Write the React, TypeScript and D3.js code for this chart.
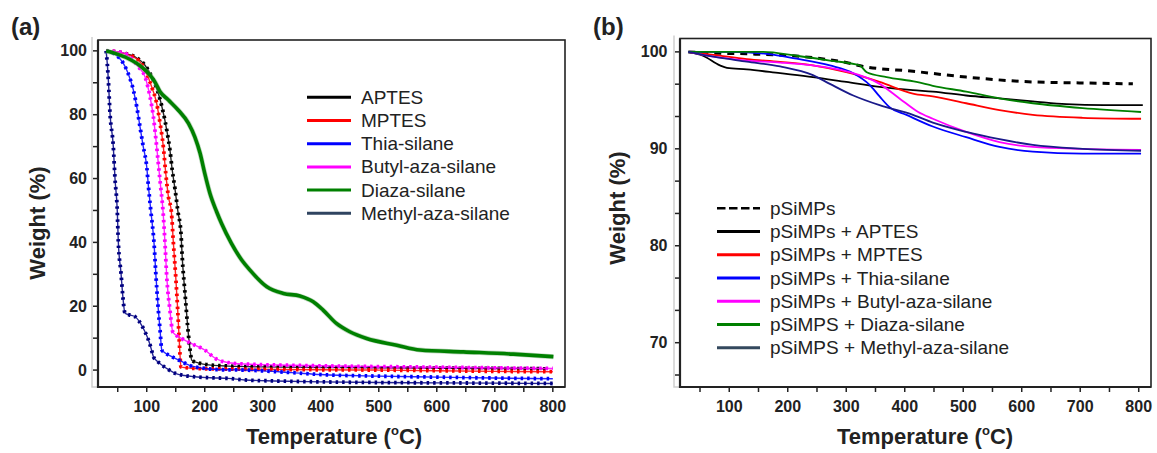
import React from 'react';
import * as d3 from 'd3';

type Pt = [number, number];

// ---------- Panel (a) data: [temperature °C, weight %] ----------
const aptesA: Pt[] = [[30,100],[60,99.3],[80,98.1],[97,95.5],[108.6,91.9],[120,86.7],[127.6,81.4],[134.5,75.2],[140,68.9],[144,62.6],[149,56.4],[153.5,50],[159,42.8],[161.5,34.4],[166,24],[170.6,13.6],[174.7,6.3],[177.6,3.1],[190,2.2],[200,1.8],[241,1.25],[300,1.0],[400,0.8],[500,0.7],[600,0.6],[700,0.5],[790,0.4]];
const mptesA: Pt[] = [[30,100],[60,99.2],[85.5,97.1],[97,94],[108.6,88.7],[117.2,83.5],[123,77.3],[128.6,70],[132.8,61.6],[137.4,54.3],[142.5,49.5],[146,39.7],[150,29.2],[153.4,18.8],[156.3,8.4],[159,1.0],[170,0.7],[183,0.5],[250,0.3],[400,0.1],[500,0],[600,-0.2],[700,-0.4],[800,-0.5]];
const thiaA: Pt[] = [[30,100],[40,99.5],[51,98.1],[60,96],[68,92.9],[77,87.7],[82.8,82.5],[88.4,76.2],[94,70],[100,63.7],[103,57.4],[107,50],[112.6,39.7],[116,29.2],[120,18.8],[123,12.5],[125.9,6.3],[130,5.6],[143,4.2],[160,2.7],[172,1.6],[200,0.5],[230,0.1],[269.5,0],[350,-0.8],[400,-1.4],[500,-1.9],[600,-2.2],[700,-2.5],[800,-2.7]];
const butylA: Pt[] = [[30,100],[45,99.8],[62.6,99.2],[85.5,95],[97,91.9],[105.7,85.6],[111.5,79.3],[116,72],[120,64.7],[124,57.4],[128,50],[131.5,39.7],[134.5,29.2],[140,18.8],[144.8,12],[150,11],[160,9.9],[183,7.8],[200,6.3],[218,3.7],[241,2.3],[269,1.9],[350,1.5],[450,1.2],[550,1.0],[650,0.8],[800,0.5]];
const diazaA: Pt[] = [[30,100],[45.3,99.2],[68,97.6],[91,95],[105.7,92.4],[114,90.3],[123,87.2],[137.4,84.6],[154.5,81.4],[172,77.3],[183,73],[192,67.9],[200,61.6],[209,55.3],[220.5,49.6],[229,45.9],[246,39.7],[264,34.4],[278,31.3],[307,26.1],[335.6,24],[364,23.2],[387,21.4],[404,18.8],[427,14.6],[450,12],[479,9.9],[531,7.8],[571,6.3],[646,5.7],[732,5.0],[801,4.2]];
const methylA: Pt[] = [[30,100],[32,96],[34,90.3],[36.7,80.4],[42.4,70],[45.3,60],[49.3,49.6],[51,40.2],[55.7,30.3],[58.6,23.5],[62.6,17.8],[70,17.3],[80,16.7],[91,14.1],[97,12],[103,9.4],[108,6.5],[111.5,4.2],[118,2.8],[126,1.6],[137,0.2],[149,-1.0],[165,-1.7],[183,-2.1],[210,-2.4],[240,-2.6],[269,-3.1],[320,-3.4],[400,-3.7],[500,-3.9],[600,-4.0],[700,-4.1],[800,-4.2]];

// ---------- Panel (b) data ----------
const psiB: Pt[] = [[30,100],[60,99.9],[130,99.8],[243,99.4],[300,98.9],[329,98.5],[414,98.0],[505,97.4],[619,96.9],[700,96.8],[790,96.7]];
const aptesB: Pt[] = [[30,100],[55,99.6],[84,98.6],[96,98.35],[130,98.2],[187,97.8],[243,97.4],[300,96.9],[357,96.4],[414,96.05],[448,95.9],[505,95.5],[562,95.2],[619,94.9],[676,94.6],[740,94.5],[807,94.5]];
const mptesB: Pt[] = [[30,100],[73,99.7],[130,99.25],[187,98.97],[243,98.6],[300,97.9],[357,96.9],[414,95.7],[448,95.4],[505,94.7],[562,94.0],[619,93.5],[704,93.2],[804,93.1]];
const thiaB: Pt[] = [[30,100],[101,100],[164,99.8],[215,99.3],[272,98.6],[312,97.8],[340,96.6],[357,95.4],[374,94.3],[403,93.5],[448,92.3],[505,91.2],[562,90.2],[619,89.7],[704,89.5],[804,89.5]];
const butylB: Pt[] = [[30,100],[73,99.5],[130,99.1],[187,98.9],[243,98.6],[300,98.0],[357,96.7],[391,95.2],[423,93.8],[448,93.1],[505,91.75],[562,90.7],[619,90.2],[704,90.0],[804,89.9]];
const diazaB: Pt[] = [[30,100],[73,100],[158,100],[215,99.6],[272,99.1],[323,98.6],[335,97.9],[369,97.4],[420,96.9],[448,96.5],[505,95.9],[562,95.2],[619,94.7],[704,94.2],[804,93.8]];
const methylB: Pt[] = [[30,100],[73,99.5],[130,99.0],[187,98.5],[243,97.6],[272,96.7],[312,95.5],[357,94.5],[414,93.5],[448,92.7],[505,91.75],[562,91.0],[619,90.4],[704,90.0],[804,89.8]];

// ---------- Labels & ticks ----------
const legendA = ['APTES', 'MPTES', 'Thia-silane', 'Butyl-aza-silane', 'Diaza-silane', 'Methyl-aza-silane'];
const legendB = ['pSiMPs', 'pSiMPs + APTES', 'pSiMPs + MPTES', 'pSiMPs + Thia-silane', 'pSiMPs + Butyl-aza-silane', 'pSiMPS + Diaza-silane', 'pSiMPS + Methyl-aza-silane'];
const xTicks = [100, 200, 300, 400, 500, 600, 700, 800];
const xMinor = [50, 150, 250, 350, 450, 550, 650, 750];
const yTicksA = [0, 20, 40, 60, 80, 100];
const yMinorA = [10, 30, 50, 70, 90];
const yTicksB = [70, 80, 90, 100];
const yMinorB = [200 / 3, 220 / 3, 230 / 3, 250 / 3, 260 / 3, 280 / 3, 290 / 3];

const TXT = '#222';
const FONT = 'Liberation Sans, Arial, sans-serif';

const seriesA = [
  { data: aptesA, color: '#000000', legend: '#000000' },
  { data: mptesA, color: '#ff0000', legend: '#ff0000' },
  { data: thiaA, color: '#0000ff', legend: '#0000ff' },
  { data: butylA, color: '#ff00ff', legend: '#ff00ff' },
  { data: methylA, color: '#000080', legend: '#2f4460' },
  { data: diazaA, color: '#008000', legend: '#008000' },
];
const legendColorsA = ['#000000', '#ff0000', '#0000ff', '#ff00ff', '#008000', '#2f4460'];

const seriesB = [
  { data: psiB, color: '#000000', dash: true },
  { data: aptesB, color: '#000000' },
  { data: mptesB, color: '#ff0000' },
  { data: thiaB, color: '#0000ff' },
  { data: butylB, color: '#ff00ff' },
  { data: diazaB, color: '#008000' },
  { data: methylB, color: '#1a1a8a' },
];
const legendColorsB = ['#000000', '#000000', '#ff0000', '#0000ff', '#ff00ff', '#008000', '#34495e'];

type Box = { l: number; r: number; t: number; b: number };

function Frame({ box, x, y, yTicks, yMinor, labelOffset, titleX, titleY, ytX, ytY }: any) {
  const bx: Box = box;
  return (
    <g>
      <polyline points={`${bx.l - 6},${bx.t - 3} ${bx.l - 6},${bx.b} ${bx.l},${bx.b}`} fill="none" stroke="#cfcfcf" strokeWidth={1.5} />
      <rect x={bx.l} y={bx.t} width={bx.r - bx.l} height={bx.b - bx.t} fill="none" stroke={TXT} strokeWidth={1.6} />
      <line x1={bx.l} x2={bx.l} y1={bx.t} y2={bx.b + 1} stroke={TXT} strokeWidth={2.2} />
      <line x1={bx.l - 1} x2={bx.r} y1={bx.b} y2={bx.b} stroke={TXT} strokeWidth={2.2} />
      {xTicks.concat(xMinor).map((t) => (
        <line key={'xt' + t} x1={x(t)} x2={x(t)} y1={bx.b} y2={bx.b + 5} stroke={TXT} strokeWidth={1.5} />
      ))}
      {(yTicks as number[]).concat(yMinor).map((t) => (
        <line key={'yt' + t} x1={bx.l - 5} x2={bx.l} y1={y(t)} y2={y(t)} stroke={TXT} strokeWidth={1.5} />
      ))}
      {xTicks.map((t) => (
        <text key={'xl' + t} x={x(t)} y={bx.b + 25} textAnchor="middle" fontSize={16} fontWeight="bold" fill={TXT} fontFamily={FONT}>{t}</text>
      ))}
      {(yTicks as number[]).map((t) => (
        <text key={'yl' + t} x={bx.l - labelOffset} y={y(t) + 5.5} textAnchor="end" fontSize={16} fontWeight="bold" fill={TXT} fontFamily={FONT}>{t}</text>
      ))}
      <text x={titleX} y={titleY} textAnchor="middle" fontSize={22} fontWeight="bold" fill={TXT} fontFamily={FONT}>
        Temperature (<tspan fontSize={13} dy={-9}>o</tspan><tspan dy={9}>C)</tspan>
      </text>
      <text transform={`translate(${ytX},${ytY}) rotate(-90)`} textAnchor="middle" fontSize={22} fontWeight="bold" fill={TXT} fontFamily={FONT}>
        Weight (%)
      </text>
    </g>
  );
}

export default function App() {
  const boxA: Box = { l: 98, r: 565, t: 40, b: 387 };
  const boxB: Box = { l: 680, r: 1151, t: 38.5, b: 387 };
  const xA = d3.scaleLinear().domain([16, 821]).range([boxA.l, boxA.r]);
  const yA = d3.scaleLinear().domain([-5.3, 103.4]).range([boxA.b, boxA.t]);
  const xB = d3.scaleLinear().domain([15.8, 821]).range([boxB.l, boxB.r]);
  const yB = d3.scaleLinear().domain([65.43, 101.38]).range([boxB.b, boxB.t]);

  const lineA = d3.line<Pt>().x((d) => xA(d[0])).y((d) => yA(d[1])).curve(d3.curveMonotoneX);
  const lineB = d3.line<Pt>().x((d) => xB(d[0])).y((d) => yB(d[1])).curve(d3.curveMonotoneX);

  return (
    <svg width={1157} height={453} style={{ position: 'absolute', left: 0, top: 0, background: '#fff' }}>
      <rect x={0} y={0} width={1157} height={453} fill="#fff" />
      {/* Panel labels */}
      <text x={11} y={35} fontSize={24} fontWeight="bold" fill={TXT} fontFamily={FONT}>(a)</text>
      <text x={593} y={35} fontSize={24} fontWeight="bold" fill={TXT} fontFamily={FONT}>(b)</text>

      {/* Panel (a) */}
      <Frame box={boxA} x={xA} y={yA} yTicks={yTicksA} yMinor={yMinorA} labelOffset={11} titleX={334} titleY={444} ytX={45} ytY={223} />
      <g>
        {seriesA.map((s, i) => {
          const d = lineA(s.data) || '';
          if (s.data === diazaA) {
            return (
              <g key={'a' + i}>
                <path d={d} fill="none" stroke="#7fb27f" strokeWidth={5} opacity={0.5} />
                <path d={d} fill="none" stroke={s.color} strokeWidth={3.6} />
              </g>
            );
          }
          return (
            <g key={'a' + i}>
              <path d={d} fill="none" stroke={s.color} strokeWidth={1.4} opacity={0.85} />
              <path d={d} fill="none" stroke={s.color} strokeWidth={3.8} strokeDasharray="2.5 4" />
            </g>
          );
        })}
      </g>
      <g>
        {legendA.map((name, i) => {
          const yy = 97.3 + i * 23.2;
          return (
            <g key={'la' + i}>
              <line x1={307} x2={351} y1={yy} y2={yy} stroke={legendColorsA[i]} strokeWidth={3} />
              <text x={361} y={yy + 6.5} fontSize={19} fill={TXT} fontFamily={FONT}>{name}</text>
            </g>
          );
        })}
      </g>

      {/* Panel (b) */}
      <Frame box={boxB} x={xB} y={yB} yTicks={yTicksB} yMinor={yMinorB} labelOffset={12.5} titleX={925} titleY={444} ytX={625} ytY={208} />
      <g>
        {seriesB.map((s, i) => (
          <path key={'b' + i} d={lineB(s.data) || ''} fill="none" stroke={s.color}
            strokeWidth={(s as any).dash ? 3 : 1.8} strokeDasharray={(s as any).dash ? '7 6' : undefined} />
        ))}
      </g>
      <g>
        {legendB.map((name, i) => {
          const yy = 208.3 + i * 23.25;
          return (
            <g key={'lb' + i}>
              <line x1={717} x2={760} y1={yy} y2={yy} stroke={legendColorsB[i]} strokeWidth={i === 0 ? 2.6 : 3} strokeDasharray={i === 0 ? '8.5 3.5' : undefined} />
              <text x={770} y={yy + 6.5} fontSize={19} fill={TXT} fontFamily={FONT}>{name}</text>
            </g>
          );
        })}
      </g>
    </svg>
  );
}
